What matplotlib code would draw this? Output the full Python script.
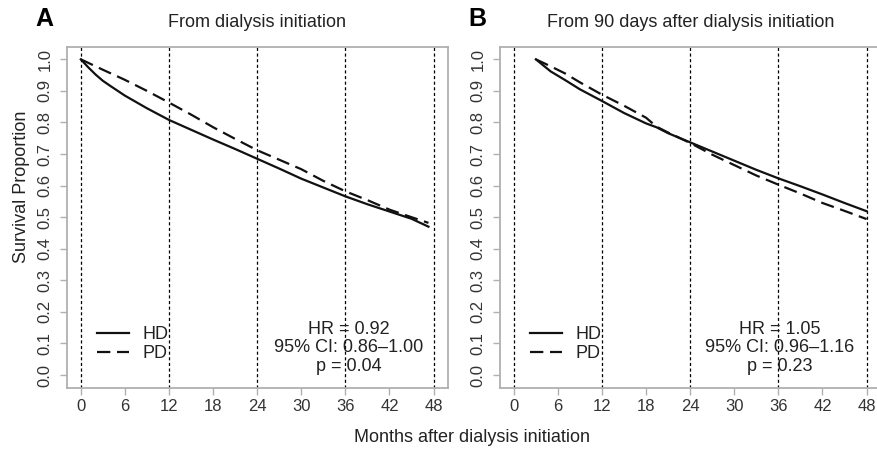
import matplotlib
matplotlib.use("Agg")
import matplotlib.pyplot as plt

plt.rcParams.update(
    {
        "font.family": ["Liberation Sans", "DejaVu Sans"],
        "font.size": 13,
        "axes.linewidth": 1.0,
    }
)

# panel A: from dialysis initiation
months_a = [0, 1, 2, 3, 4, 6, 9, 12, 15, 18, 21, 24, 27, 30, 33, 36, 39, 42, 45, 47.3]
hd_a = [1.0, 0.975, 0.952, 0.932, 0.916, 0.885, 0.845, 0.808, 0.777, 0.746, 0.716,
        0.685, 0.654, 0.622, 0.594, 0.566, 0.541, 0.518, 0.495, 0.470]
months_a_pd = [0, 3, 6, 9, 12, 15, 18, 21, 24, 27, 30, 33, 36, 39, 42, 45, 47.3]
pd_a = [1.0, 0.967, 0.935, 0.900, 0.863, 0.825, 0.785, 0.748, 0.712, 0.682, 0.652,
        0.615, 0.582, 0.554, 0.524, 0.500, 0.482]

# panel B: from 90 days after initiation
months_b = [3, 5, 7, 9, 12, 15, 18, 19.4, 21, 24, 27, 30, 33, 36, 39, 42, 45, 48]
hd_b = [1.0, 0.962, 0.934, 0.905, 0.868, 0.830, 0.797, 0.785, 0.766, 0.737, 0.708,
        0.679, 0.650, 0.623, 0.598, 0.572, 0.545, 0.519]
pd_b = [1.0, 0.978, 0.955, 0.927, 0.888, 0.853, 0.815, 0.787, 0.768, 0.735, 0.698,
        0.665, 0.632, 0.603, 0.575, 0.545, 0.520, 0.494]

x_ticks = [0, 6, 12, 18, 24, 30, 36, 42, 48]
y_ticks = [0.0, 0.1, 0.2, 0.3, 0.4, 0.5, 0.6, 0.7, 0.8, 0.9, 1.0]
ref_months = [0, 12, 24, 36, 48]

stats_a = "HR = 0.92\n95% CI: 0.86\u20131.00\np = 0.04"
stats_b = "HR = 1.05\n95% CI: 0.96\u20131.16\np = 0.23"

SPINE = "#b0b0b0"
TICKTXT = "#333333"

W, H = 877, 449
fig = plt.figure(figsize=(W / 100, H / 100), dpi=100)


def px_axes(left, top, right, bottom):
    return fig.add_axes([left / W, 1 - bottom / H, (right - left) / W, (bottom - top) / H])


def draw_panel(ax, m_hd, s_hd, m_pd, s_pd, stats, stats_x):
    for m in ref_months:
        ax.axvline(m, color="black", linewidth=0.9, linestyle=(0, (2.5, 2.0)), zorder=1)
    ax.plot(m_hd, s_hd, color="#111111", linewidth=1.6, label="HD", zorder=3)
    ax.plot(m_pd, s_pd, color="#111111", linewidth=1.6, linestyle=(0, (6, 3)),
            label="PD", zorder=3)
    ax.set_xlim(-1.92, 49.92)
    ax.set_ylim(-0.04, 1.04)
    ax.set_xticks(x_ticks)
    ax.set_yticks(y_ticks)
    ax.set_yticklabels([f"{v:.1f}" for v in y_ticks], rotation=90, va="center")
    for sp in ax.spines.values():
        sp.set_color(SPINE)
        sp.set_linewidth(1.3)
    ax.tick_params(colors=SPINE, labelcolor=TICKTXT, length=5, width=1.0,
                   labelsize=12)
    ax.tick_params(axis="x", pad=3)
    ax.tick_params(axis="y", pad=5)
    ax.legend(loc="lower left", bbox_to_anchor=(0.08, 0.075), frameon=False,
              handlelength=1.75, handletextpad=0.75, labelspacing=0.1,
              borderpad=0.0, borderaxespad=0.0, fontsize=13, labelcolor="#222222")
    ax.text(stats_x, 0.117, stats, transform=ax.transAxes, ha="center", va="center",
            multialignment="center", linespacing=1.1, fontsize=13, color="#222222")


ax_a = px_axes(66.7, 46.7, 447.7, 387.7)
ax_b = px_axes(499.7, 46.7, 880.7, 387.7)

draw_panel(ax_a, months_a, hd_a, months_a_pd, pd_a, stats_a, 0.74)
draw_panel(ax_b, months_b, hd_b, months_b, pd_b, stats_b, 0.735)

ax_a.set_title("From dialysis initiation", fontsize=13, color="#222222", pad=14)
ax_b.set_title("From 90 days after dialysis initiation", fontsize=13, color="#222222", pad=14)

fig.text(44 / W, 1 - 19 / H, "A", fontsize=18, fontweight="bold", ha="center", va="center")
fig.text(477 / W, 1 - 19 / H, "B", fontsize=18, fontweight="bold", ha="center", va="center")
fig.text(22 / W, 1 - 187 / H, "Survival Proportion", rotation=90, fontsize=13,
         ha="center", va="center", color="#222222")
fig.text(472 / W, 1 - 437 / H, "Months after dialysis initiation", fontsize=13,
         ha="center", va="center", color="#222222")

fig.savefig("out.png", dpi=100)
